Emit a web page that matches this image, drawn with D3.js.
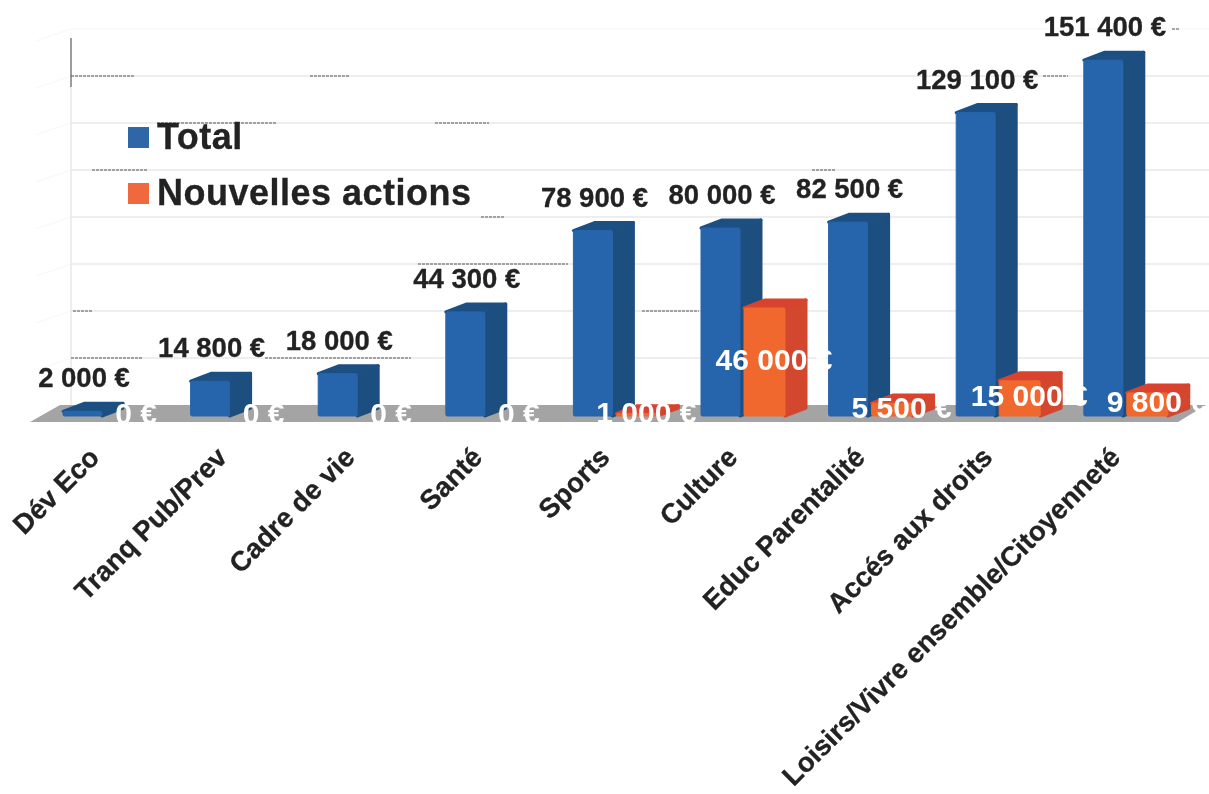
<!DOCTYPE html>
<html>
<head>
  <meta charset="utf-8">
  <title>Total et nouvelles actions par thématique</title>
  <style>
    html, body { margin: 0; padding: 0; background: #fff; }
    svg { display: block; }
    text { font-family: "Liberation Sans", Arial, sans-serif; font-weight: bold; }
  </style>
</head>
<body>
  <script src="https://cdn.jsdelivr.net/npm/d3@7"></script>
  <script>
    // values
    var categories = ["Dév Eco", "Tranq Pub/Prev", "Cadre de vie", "Santé", "Sports", "Culture",
                      "Educ Parentalité", "Accés aux droits", "Loisirs/Vivre ensemble/Citoyenneté"];
    var totalValues = [2000, 14800, 18000, 44300, 78900, 80000, 82500, 129100, 151400];
    var newActionValues = [0, 0, 0, 0, 1000, 46000, 5500, 15000, 9800];
    var seriesNames = ["Total", "Nouvelles actions"];
    var gridValues = [0, 20000, 40000, 60000, 80000, 100000, 120000, 140000, 160000];

    var w = 1209;
    var h = 794;
    var depthX = 21;
    var depthY = 8;
    var wallY = 11;

    var svg = d3.select("body").append("svg")
      .attr("width", w)
      .attr("height", h);

    var defs = svg.append("defs");
    defs.append("filter").attr("id", "scan")
      .append("feGaussianBlur").attr("stdDeviation", 0.55);

    var x = d3.scaleBand().domain(categories).range([63, 63 + 127.6 * categories.length]);
    var xSeries = d3.scaleBand().domain(seriesNames).range([0, 84]);
    var y = d3.scaleLinear().domain([0, 160000]).range([416, 40]);

    var colors = d3.scaleOrdinal().domain(seriesNames).range(["#2765ab", "#f0682f"]);
    var sideColors = d3.scaleOrdinal().domain(seriesNames).range(["#1f4f80", "#d2462f"]);
    var topColors = d3.scaleOrdinal().domain(seriesNames).range(["#1f4f82", "#d8432f"]);

    var chart = svg.append("g").attr("filter", "url(#scan)");

    // back wall
    chart.selectAll("line.grid")
      .data(gridValues.slice(1))
      .enter().append("line")
      .attr("class", "grid")
      .attr("x1", 71).attr("x2", w)
      .attr("y1", function(d) { return y(d) - wallY; })
      .attr("y2", function(d) { return y(d) - wallY; })
      .attr("stroke", function(d) { return d == 160000 ? "#fafafa" : "#e9e9e9"; })
      .attr("stroke-width", 1.5);

    chart.selectAll("line.wing")
      .data(gridValues.slice(1))
      .enter().append("line")
      .attr("class", "wing")
      .attr("x1", 36).attr("x2", 71)
      .attr("y1", function(d) { return y(d) - wallY + 12; })
      .attr("y2", function(d) { return y(d) - wallY; })
      .attr("stroke", "#f9f9f9")
      .attr("stroke-width", 1.5);

    chart.append("line")
      .attr("x1", 71).attr("x2", 71)
      .attr("y1", y(140000) - wallY - 38).attr("y2", y(0) - wallY)
      .attr("stroke", "#e9e9e9").attr("stroke-width", 1.5);

    chart.append("line")
      .attr("x1", 71).attr("x2", 71)
      .attr("y1", y(140000) - wallY - 38).attr("y2", y(140000) - wallY + 11)
      .attr("stroke", "#666").attr("stroke-width", 1.2);

    // dark leftovers of the scan sitting on the grid lines: grid value, from, to
    var scanFragments = [
      [140000, 71, 135], [140000, 310, 350], [140000, 1043, 1068], [160000, 1172, 1180],
      [120000, 157, 277], [120000, 435, 489], [100000, 92, 148], [100000, 812, 835],
      [80000, 481, 504], [60000, 418, 568], [40000, 73, 92], [40000, 642, 699],
      [20000, 71, 143], [20000, 265, 411]
    ];
    chart.selectAll("line.fragment")
      .data(scanFragments)
      .enter().append("line")
      .attr("class", "fragment")
      .attr("x1", function(d) { return d[1]; })
      .attr("x2", function(d) { return d[2]; })
      .attr("y1", function(d) { return y(d[0]) - wallY; })
      .attr("y2", function(d) { return y(d[0]) - wallY; })
      .attr("stroke", "#555")
      .attr("stroke-width", 1.2)
      .attr("stroke-dasharray", "3 1");

    // floor
    chart.append("polygon")
      .attr("points", [
        [30, y(0) + 6], [1178, y(0) + 6],
        [1206, y(0) - wallY], [60, y(0) - wallY]
      ].join(" "))
      .attr("fill", "#a4a4a4");

    // build the bars
    var bars = [];
    categories.forEach(function(c, i) {
      if (totalValues[i] > 0) bars.push({ cat: c, series: "Total", value: totalValues[i], width: 39 });
      if (newActionValues[i] > 0) bars.push({ cat: c, series: "Nouvelles actions", value: newActionValues[i], width: 41 });
    });

    function left(d) { return x(d.cat) + xSeries(d.series) + (d.series == "Total" ? 0 : 1); }

    var bar = chart.selectAll("g.bar")
      .data(bars)
      .enter().append("g")
      .attr("class", "bar")
      .attr("stroke-linejoin", "round")
      .attr("stroke-width", 3);

    // side face
    bar.append("polygon")
      .attr("points", function(d) {
        var x1 = left(d) + d.width;
        return [[x1, y(0)], [x1 + depthX, y(0) - depthY],
                [x1 + depthX, y(d.value) - depthY], [x1, y(d.value)]].join(" ");
      })
      .attr("fill", function(d) { return sideColors(d.series); })
      .attr("stroke", function(d) { return sideColors(d.series); });

    // top face
    bar.append("polygon")
      .attr("points", function(d) {
        var x0 = left(d), x1 = x0 + d.width;
        return [[x0, y(d.value)], [x1, y(d.value)],
                [x1 + depthX, y(d.value) - depthY], [x0 + depthX, y(d.value) - depthY]].join(" ");
      })
      .attr("fill", function(d) { return topColors(d.series); })
      .attr("stroke", function(d) { return topColors(d.series); });

    // front face
    bar.append("rect")
      .attr("x", left)
      .attr("y", function(d) { return y(d.value); })
      .attr("width", function(d) { return d.width; })
      .attr("height", function(d) { return y(0) - y(d.value); })
      .attr("rx", 1.5)
      .attr("fill", function(d) { return colors(d.series); })
      .attr("stroke", function(d) { return colors(d.series); })
      .attr("stroke-width", 1);

    var euro = function(v) {
      return d3.format(",")(v).replace(/,/g, " ") + " €";
    };

    // total labels above the bars
    chart.selectAll("text.total")
      .data(totalValues)
      .enter().append("text")
      .attr("class", "total")
      .attr("transform", function(d, i) {
        return "translate(" + (x(categories[i]) + 21) + "," + (y(d) - 24) + ")";
      })
      .attr("text-anchor", "middle")
      .attr("font-size", 27.5)
      .attr("fill", "#222")
      .attr("stroke", "#222").attr("stroke-width", 0.3)
      .text(euro);

    // white labels for the new actions, on the bar middle
    chart.selectAll("text.actions")
      .data(newActionValues)
      .enter().append("text")
      .attr("class", "actions")
      .attr("transform", function(d, i) {
        return "translate(" + (x(categories[i]) + 73) + "," + ((y(d) + y(0)) / 2 + 8) + ")";
      })
      .attr("text-anchor", "middle")
      .attr("font-size", 30)
      .attr("fill", "#fff")
      .text(euro);

    // category labels
    chart.selectAll("text.cat")
      .data(categories)
      .enter().append("text")
      .attr("class", "cat")
      .attr("transform", function(d) {
        return "translate(" + (x(d) + 38) + ",459) rotate(-45)";
      })
      .attr("text-anchor", "end")
      .attr("font-size", 27.5)
      .attr("fill", "#222")
      .attr("stroke", "#222").attr("stroke-width", 0.3)
      .text(function(d) { return d; });

    // legend
    var legend = chart.selectAll("g.legend")
      .data(seriesNames)
      .enter().append("g")
      .attr("class", "legend")
      .attr("transform", function(d, i) { return "translate(128," + (127 + i * 56) + ")"; });

    legend.append("rect")
      .attr("width", 21).attr("height", 21)
      .attr("fill", function(d) { return d == "Total" ? "#2f66a8" : "#f0683c"; });

    legend.append("text")
      .attr("x", 29).attr("y", 22)
      .attr("font-size", 36)
      .attr("letter-spacing", 0.5)
      .attr("fill", "#222")
      .attr("stroke", "#222").attr("stroke-width", 0.3)
      .text(function(d) { return d; });
  </script>
</body>
</html>
